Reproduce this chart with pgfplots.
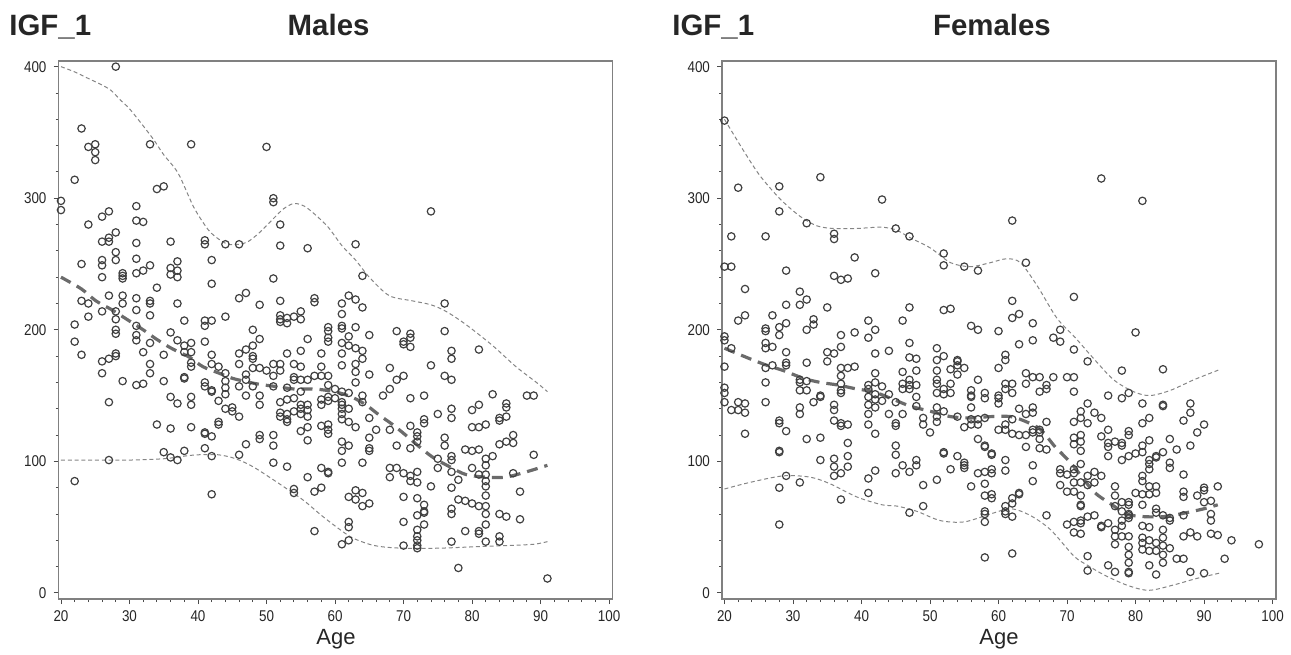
\documentclass[border=0pt]{standalone}
\usepackage{pgfplots}
\pgfplotsset{compat=1.18}
\usepackage{fontspec}
\setmainfont{Liberation Sans}
\newfontfamily\narrowfont[FakeStretch=0.86]{Liberation Sans}

\pgfplotsset{
 igf/.style={
  scale only axis, width=277pt, height=269pt,
  xmin=19.64, xmax=100.5, ymin=-4.6, ymax=404.3,
  xtick={20,30,...,100}, ytick={0,100,...,400},
  minor x tick num=4, minor y tick num=4,
  xtick pos=bottom, ytick pos=left, tick align=outside,
  major tick length=2.5pt, minor tick length=1.5pt,
  axis line style={draw=black!50, line width=0.9pt},
  tick style={draw=black!70, line width=0.45pt},
  /pgf/number format/assume math mode=true,
  ticklabel style={font=\narrowfont\fontsize{7.8}{9}\selectfont, text=black!85},
  clip=false,
 },
 dots/.style={only marks, mark=o, mark size=1.85pt, mark options={draw=black!75, line width=0.6pt}},
 band/.style={no marks, smooth, draw=black!48, line width=0.5pt, dash pattern=on 2pt off 1.4pt},
 fitl/.style={no marks, smooth, draw=black!58, line width=1.6pt, dash pattern=on 5.5pt off 3.5pt},
}

\begin{document}
\begin{tikzpicture}
\path[use as bounding box] (0,0) rectangle (645.5pt,327pt);

% ---------------- Males ----------------
\begin{axis}[igf, at={(29.25pt,27.5pt)}, anchor=south west]
\addplot[dots] coordinates {
(28,400) (23,353) (24,339) (25,341) (25,335) (25,329) (33,341) (39,341) (22,314) (34,307) (35,309) (20,298) (20,291) (31,294) (27,290) (26,286) (31,283) (32,282) (24,280) (28,274) (26,267) (27,270) (27,267) (31,266) (36,267) (41,268) (41,265) (44,265)
(23,250) (26,253) (26,249) (28,259) (28,253) (31,254) (33,249) (32,245) (31,243) (36,247) (36,242) (37,252) (37,245) (37,240) (42,253) (42,235)
(26,240) (29,243) (29,241) (29,239) (34,232)
(23,222) (24,220) (27,226) (29,226) (29,220) (31,224) (33,222) (33,220) (37,220) (26,214) (28,214) (24,210) (31,215) (33,211) (44,210)
(22,204) (28,208) (28,200) (28,197) (31,203) (31,196) (31,192) (38,207) (41,207) (42,207) (41,203)
(22,191) (23,181) (33,190) (32,183) (36,198) (37,192) (35,181) (28,182) (28,180) (27,178) (26,176) (26,167) (38,188) (39,190) (38,183) (39,183) (41,191) (42,181) (42,174) (43,172) (44,167) (39,175) (39,172)
(33,174) (33,167) (29,161) (31,158) (32,159) (35,161) (38,164) (38,163) (41,160) (41,157) (42,154) (42,153) (44,161) (44,156) (44,151)
(27,145) (36,149) (37,144) (39,149) (39,143) (43,146) (44,140) (45,141) (45,138) (43,130) (43,128)
(34,128) (36,125) (39,126) (41,122) (42,119) (41,121)
(35,107) (36,103) (37,101) (38,108) (41,110) (42,104) (27,101)
(22,85) (42,75)
(50,339) (51,300) (51,297) (52,280) (46,265) (52,264) (56,262) (63,265) (51,239) (64,241)
(46,224) (47,228) (49,219) (52,222) (57,224) (57,221) (61,220) (62,226) (63,223) (64,217) (61,212)
(52,211) (52,208) (52,206) (53,209) (53,205) (54,210) (55,214) (55,208)
(59,202) (59,199) (59,194) (59,191) (61,203) (61,201) (63,202) (62,195) (65,196) (69,199) (71,197) (71,194) (70,191) (71,187) (70,189)
(48,200) (49,193) (48,188) (47,185) (46,182) (46,174) (48,180) (48,178) (48,171) (49,171) (50,169) (51,174) (52,174) (52,169) (53,182) (55,184) (56,193) (54,174) (55,172) (58,182) (58,172) (61,190) (62,188) (63,186) (64,184) (61,182) (63,174) (64,178) (61,173) (65,166) (68,171) (70,165) (69,162) (63,168) (63,160)
(47,166) (47,162) (46,157) (48,157) (51,165) (51,157) (54,164) (54,162) (55,162) (56,162) (57,165) (58,165) (59,165) (53,156) (55,153) (59,158) (60,155) (60,148) (61,153) (62,152) (64,150) (67,150) (68,155) (71,148)
(47,150) (49,150) (49,143) (52,145) (53,147) (54,148) (55,143) (56,143) (55,140) (56,139) (52,137) (52,134) (53,136) (53,132) (53,130) (54,138) (55,136) (56,134) (58,147) (58,143) (59,146) (59,149) (61,145) (61,143) (61,140) (61,136) (62,140) (61,132) (62,130) (46,134)
(64,145) (65,133) (63,126) (66,124) (68,124) (71,127) (69,112) (65,118)
(49,120) (49,117) (51,120) (51,112) (47,113) (55,123) (56,126) (56,116) (58,127) (59,128) (59,124) (59,121) (61,115) (61,108) (62,112) (65,110) (65,108) (71,110)
(46,105) (51,99) (53,96) (56,88) (58,95) (59,92) (59,91) (61,99) (64,99) (68,95) (69,95) (68,88) (70,91) (71,89) (71,85)
(54,79) (54,76) (57,77) (58,80) (62,73) (63,78) (63,71) (64,76) (64,66) (65,68) (70,73)
(57,47) (62,54) (62,50) (62,40) (61,37) (70,54) (70,36)
(74,290)
(76,220) (76,199) (77,184) (77,178) (81,185) (74,173) (76,165) (77,162)
(73,150) (83,151) (88,150) (89,150)
(75,136) (73,132) (73,129) (77,140) (77,133) (80,139) (81,143) (80,126) (81,126) (82,128) (84,133) (84,131) (85,144) (85,134) (85,141)
(72,122) (72,119) (72,115) (76,118) (76,112) (79,109) (80,108) (81,109) (84,113) (85,115) (86,120) (86,114) (89,105)
(75,102) (75,95) (77,104) (77,101) (82,102) (82,97) (83,104) (72,92) (72,84) (74,81) (77,92) (77,80) (78,86) (80,95) (81,90) (82,90) (86,91) (87,77)
(72,72) (73,67) (73,62) (73,61) (72,59) (73,52) (72,48) (72,43) (72,40) (72,36) (72,34) (77,64) (77,60) (78,71) (79,70) (80,68) (81,66) (82,85) (82,81) (82,74) (82,66) (82,60) (82,52) (84,60) (85,58) (87,56) (79,47) (81,47) (81,45) (77,39) (82,39) (84,43) (84,39)
(78,19) (91,11)
};
\addplot[band] coordinates {(20,400) (22,396) (24,391) (26,386) (27.3,382) (28.8,374) (30,368) (32,355) (33.6,344) (35,333) (37.1,319) (39.4,293) (41.5,276) (43,269) (44.4,265) (46,265) (47.3,267) (49,274) (51.1,285) (52.5,292) (54,296) (55.5,294) (57,288) (59,278) (61,264) (63,253) (65,240) (67.9,226) (71.3,222) (74,219) (76.2,214) (79.1,204) (83,188) (86.4,172) (89.4,160) (91,153)};
\addplot[band] coordinates {(20,101) (25,101) (30,101) (35,102) (38,104) (40,105) (43,105) (45.5,102) (48,96) (51,86) (53,79) (55.5,70) (58,59) (60.5,49) (62.5,42) (65,37) (67,35) (70,34) (75,34) (80,35) (85,36) (89,37) (91,39)};
\addplot[fitl] coordinates {(20,240) (23,231) (25.1,222) (27.5,215) (29.6,208) (32,200) (33.9,193) (36.1,186) (38.8,179) (40.7,172) (43.1,167) (45.1,163) (48.5,159) (51.2,157) (54,155) (57,155) (59.9,153) (62.4,149) (64.5,143) (66.5,135) (68.4,128) (70.3,120) (72.1,112) (74.3,103) (76.7,96) (79.1,90) (82.1,88) (84.9,88) (87.9,92) (91,97)};
\end{axis}

% ---------------- Females ----------------
\begin{axis}[igf, at={(361pt,27.5pt)}, anchor=south west]
\addplot[dots] coordinates {
(20,359)
(22,308) (28,309) (34,316) (28,290) (43,299)
(32,281)
(21,271) (26,271) (36,273) (36,269)
(39,255) (20,248) (21,248) (29,245) (42,243) (36,241) (37,238) (38,239)
(23,231) (31,229) (32,223) (31,219) (29,219) (35,217)
(22,207) (23,211) (27,211) (33,208) (33,204) (29,205) (28,202) (26,201) (26,199) (28,196) (32,200) (41,207) (42,200) (39,198) (37,196) (41,194)
(20,195) (20,192) (21,186) (26,190) (26,186) (27,187) (29,183) (35,183) (35,176) (36,182) (37,187) (42,182) (44,184)
(20,172) (26,171) (27,173) (29,175) (29,173) (32,175) (37,171) (38,171) (39,172) (37,165) (42,167)
(20,156) (20,152) (26,160) (31,162) (31,160) (32,161) (31,154) (32,154) (37,159) (37,154) (37,152) (41,158) (41,155) (42,160) (43,157) (42,151) (41,149) (42,147) (43,146) (44,151)
(20,145) (21,139) (22,145) (22,139) (23,144) (23,137) (26,145) (34,150) (34,149) (33,145) (31,141) (31,136) (36,143) (36,139) (36,131) (37,129) (38,128) (37,127) (41,143) (41,136) (42,141) (44,136) (41,128)
(28,131) (28,129) (29,123) (23,121) (42,121) (32,117) (34,118) (38,114) (38,104)
(28,108) (28,107) (34,101) (36,102) (36,96) (36,89) (37,91) (38,96) (42,93)
(29,89) (28,80) (31,84) (41,87) (41,76) (37,71)
(28,52)
(62,283)
(45,277) (47,271) (52,258) (52,249) (55,248) (57,245) (64,251) (71,225)
(47,217) (52,215) (53,216) (46,207) (56,203) (57,200) (60,199) (62,222) (62,209) (63,212) (65,205) (69,200) (68,194) (69,191) (63,189) (65,192) (71,185)
(47,190) (47,179) (48,178) (46,168) (48,169) (46,159) (47,162) (47,158) (47,155) (48,158) (48,149) (51,186) (51,177) (52,180) (51,169) (53,170) (54,177) (54,176) (54,173) (55,171) (54,166) (51,162) (51,159) (51,152) (52,155) (52,151) (53,152) (53,159) (57,162) (56,154) (56,150) (56,149) (58,152) (58,148) (60,171) (61,181) (61,177) (60,150) (60,148) (60,144) (61,159) (61,155) (62,159) (62,152) (64,167) (64,159) (65,164) (66,164) (66,153) (67,158) (67,155) (68,164) (70,164) (71,164) (71,153)
(45,145) (46,136) (45,129) (48,142) (49,133) (49,128) (50,122) (51,141) (51,134) (51,130) (52,138) (54,134) (55,126) (56,141) (56,132) (56,128) (57,132) (57,128) (58,133) (60,124) (61,128) (61,124) (62,121) (62,132) (63,140) (63,120) (64,136) (64,120) (65,141) (65,137) (65,124) (66,124) (66,122) (65,122) (66,117) (67,130) (66,110) (67,109) (57,117) (58,111) (58,112) (64,111) (71,130) (71,118) (71,113)
(45,112) (45,105) (45,91) (46,97) (47,92) (48,101) (48,97) (52,107) (52,106) (53,94) (54,104) (55,99) (55,97) (55,95) (57,91) (56,81) (59,106) (59,105) (58,92) (58,83) (59,94) (59,91) (59,75) (59,72) (58,74) (61,101) (61,93) (62,72) (62,68) (63,76) (63,75) (65,97) (65,85) (69,94) (69,91) (70,90) (71,94) (71,91) (71,84) (69,82) (70,77) (71,77)
(49,82) (49,66) (51,86) (47,61) (58,62) (58,60) (58,54) (61,62) (61,60) (62,58) (61,66) (67,59) (70,52) (71,54) (71,46)
(58,27) (62,30) (45,127) (46,155)
(75,315) (81,298)
(80,198) (73,176) (78,169) (84,170)
(76,150) (78,148) (79,152) (81,144) (84,143) (84,142) (88,144) (88,137) (87,131) (90,128) (89,122)
(72,138) (72,133) (73,144) (73,129) (74,137) (75,133) (72,120) (72,115) (72,108) (72,98) (75,119) (76,124) (76,114) (76,111) (76,104) (77,115) (78,114) (78,112) (79,123) (79,120) (78,101) (79,104) (80,106) (81,107) (81,112) (81,129) (82,133) (82,116) (82,101) (82,98) (82,94) (83,103) (83,104) (84,107) (85,117) (85,99) (85,95) (86,109) (88,112) (87,90)
(72,84) (73,89) (73,82) (74,92) (74,84) (75,89) (72,74) (72,67) (72,66) (72,55) (72,53) (72,45) (73,58) (74,59) (75,51) (75,50) (76,53) (77,81) (77,74) (77,66) (77,48) (77,43) (77,37) (78,69) (78,62) (78,55) (78,51) (79,69) (79,67) (79,60) (79,59) (79,57) (79,43) (79,35) (79,29) (79,23) (79,16) (78,43) (80,76) (81,89) (81,85) (81,75) (81,67) (81,51) (81,42) (81,38) (81,33) (82,81) (82,75) (82,50) (82,40) (82,32) (83,81) (83,76) (83,64) (83,61) (83,38) (83,32) (84,59) (84,48) (84,42) (84,36) (84,29) (84,23) (85,57) (85,55) (85,34) (87,77) (87,73) (87,59) (87,43) (88,46) (89,74) (89,43) (90,80) (90,78) (90,69) (91,70) (91,60) (91,55) (91,45) (92,81) (92,44) (94,40) (93,26) (98,37)
(73,28) (73,17) (76,21) (77,16) (79,15) (82,21) (83,14) (86,26) (87,26) (88,16) (90,15)
};
\addplot[band] coordinates {(20,360) (22.8,336) (25.2,317) (28.2,299) (31.1,286) (33.5,279) (35.9,277) (39.3,277) (42.8,278) (45,276) (47.1,270) (50.1,262) (53,251) (55.9,248) (58.8,251) (61.2,254) (63.2,251) (65.7,233) (68.5,209) (71.2,194) (73.9,178) (76.8,162) (79.7,153) (82.1,150) (85.1,154) (88.5,162) (92.4,170)};
\addplot[band] coordinates {(20,79) (23.7,84) (28.6,89) (32.5,88) (35.4,83) (39.3,73) (43,67) (45.2,66) (48.1,62) (51.5,55) (55,54) (58.8,60) (61.8,64) (64.6,59) (67.6,48) (71,28) (73,21) (75.3,14) (78.7,6) (81.9,2) (85.5,6) (88.9,11) (92.2,15)};
\addplot[fitl] coordinates {(20,186) (23.7,178) (26.2,173) (28.6,169) (31.6,163) (34,160) (36.6,158) (39.3,155) (41.7,153) (44.7,147) (47.1,142) (50.1,138) (53,134) (55.9,133) (58.8,134) (61.8,134) (64.1,130) (66.2,124) (68.1,112) (69.6,104) (71,96) (73.9,77) (76.3,68) (78.7,60) (81.2,58) (84.1,58) (86.5,60) (90,64) (92,67)};
\end{axis}

% titles and axis names
\node[anchor=base west, font=\bfseries\fontsize{14.7}{16}\selectfont, text=black!85, inner sep=0pt] at (4.5pt,309pt) {IGF\_1};
\node[anchor=base, font=\bfseries\fontsize{14.7}{16}\selectfont, text=black!85, inner sep=0pt] at (164.3pt,309pt) {Males};
\node[anchor=base west, font=\bfseries\fontsize{14.7}{16}\selectfont, text=black!85, inner sep=0pt] at (336pt,309pt) {IGF\_1};
\node[anchor=base, font=\bfseries\fontsize{14.7}{16}\selectfont, text=black!85, inner sep=0pt] at (496pt,309pt) {Females};
\node[anchor=base, font=\fontsize{11}{12}\selectfont, text=black!85, inner sep=0pt] at (168pt,5pt) {Age};
\node[anchor=base, font=\fontsize{11}{12}\selectfont, text=black!85, inner sep=0pt] at (499.5pt,5pt) {Age};
\end{tikzpicture}
\end{document}
